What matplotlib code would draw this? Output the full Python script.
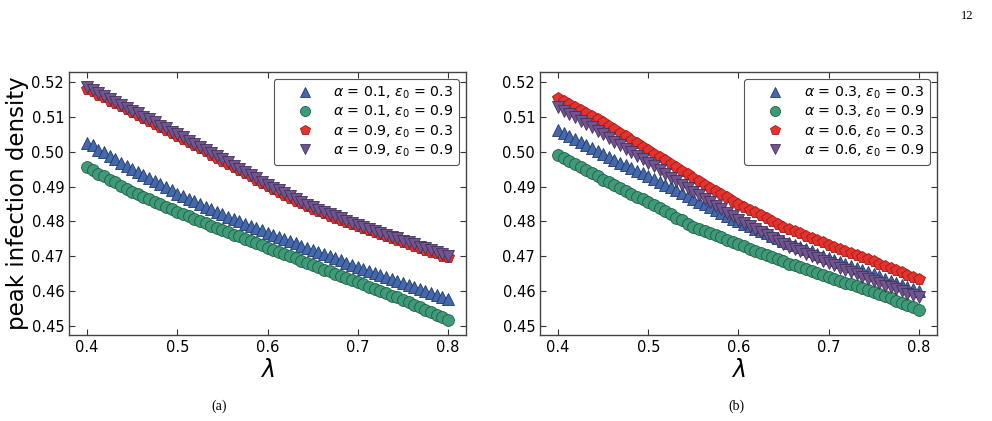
import numpy as np
import matplotlib
matplotlib.use("Agg")
import matplotlib.pyplot as plt

# lambda grid (65 points from 0.4 to 0.8)
lam = np.linspace(0.4, 0.8, 65)

# ---- panel (a) ----
a_labels = [r"$\alpha$ = 0.1, $\varepsilon_0$ = 0.3", r"$\alpha$ = 0.1, $\varepsilon_0$ = 0.9",
            r"$\alpha$ = 0.9, $\varepsilon_0$ = 0.3", r"$\alpha$ = 0.9, $\varepsilon_0$ = 0.9"]
a_blue = [0.5025, 0.5018, 0.5006, 0.5000, 0.4988, 0.4980, 0.4969, 0.4960,
          0.4951, 0.4943, 0.4933, 0.4925, 0.4916, 0.4907, 0.4898, 0.4889,
          0.4880, 0.4873, 0.4864, 0.4858, 0.4850, 0.4842, 0.4835, 0.4827,
          0.4820, 0.4814, 0.4807, 0.4801, 0.4794, 0.4788, 0.4781, 0.4775,
          0.4768, 0.4762, 0.4755, 0.4750, 0.4743, 0.4737, 0.4730, 0.4725,
          0.4718, 0.4712, 0.4706, 0.4700, 0.4694, 0.4688, 0.4682, 0.4676,
          0.4670, 0.4664, 0.4658, 0.4652, 0.4646, 0.4640, 0.4634, 0.4628,
          0.4622, 0.4617, 0.4611, 0.4605, 0.4600, 0.4594, 0.4589, 0.4583, 0.4577]
a_green = [0.4955, 0.4947, 0.4937, 0.4930, 0.4920, 0.4912, 0.4903, 0.4894,
           0.4885, 0.4878, 0.4871, 0.4864, 0.4857, 0.4849, 0.4842, 0.4835,
           0.4828, 0.4822, 0.4815, 0.4808, 0.4802, 0.4795, 0.4788, 0.4782,
           0.4775, 0.4769, 0.4762, 0.4757, 0.4750, 0.4744, 0.4737, 0.4732,
           0.4725, 0.4719, 0.4712, 0.4707, 0.4700, 0.4694, 0.4687, 0.4682,
           0.4675, 0.4669, 0.4662, 0.4657, 0.4650, 0.4644, 0.4637, 0.4632,
           0.4625, 0.4619, 0.4612, 0.4607, 0.4600, 0.4594, 0.4587, 0.4582,
           0.4575, 0.4568, 0.4561, 0.4554, 0.4546, 0.4539, 0.4532, 0.4525, 0.4518]
a_red = [0.5181, 0.5173, 0.5164, 0.5156, 0.5147, 0.5139, 0.5130, 0.5122,
         0.5114, 0.5105, 0.5097, 0.5088, 0.5080, 0.5071, 0.5063, 0.5054,
         0.5046, 0.5037, 0.5028, 0.5020, 0.5010, 0.5001, 0.4992, 0.4983,
         0.4974, 0.4965, 0.4956, 0.4947, 0.4938, 0.4929, 0.4919, 0.4910,
         0.4901, 0.4893, 0.4885, 0.4877, 0.4868, 0.4860, 0.4852, 0.4844,
         0.4836, 0.4830, 0.4823, 0.4817, 0.4811, 0.4804, 0.4798, 0.4792,
         0.4786, 0.4780, 0.4775, 0.4769, 0.4763, 0.4758, 0.4752, 0.4747,
         0.4741, 0.4736, 0.4730, 0.4724, 0.4719, 0.4713, 0.4708, 0.4702, 0.4697]
a_purple = [0.5185, 0.5176, 0.5169, 0.5159, 0.5152, 0.5143, 0.5135, 0.5126,
            0.5118, 0.5110, 0.5101, 0.5093, 0.5085, 0.5075, 0.5067, 0.5058,
            0.5050, 0.5042, 0.5032, 0.5023, 0.5015, 0.5004, 0.4996, 0.4987,
            0.4978, 0.4970, 0.4960, 0.4951, 0.4942, 0.4933, 0.4924, 0.4914,
            0.4905, 0.4897, 0.4889, 0.4881, 0.4873, 0.4864, 0.4856, 0.4848,
            0.4840, 0.4834, 0.4827, 0.4822, 0.4815, 0.4809, 0.4802, 0.4796,
            0.4790, 0.4784, 0.4779, 0.4773, 0.4768, 0.4762, 0.4756, 0.4751,
            0.4745, 0.4740, 0.4734, 0.4728, 0.4723, 0.4717, 0.4712, 0.4706, 0.4700]

# ---- panel (b) ----
b_labels = [r"$\alpha$ = 0.3, $\varepsilon_0$ = 0.3", r"$\alpha$ = 0.3, $\varepsilon_0$ = 0.9",
            r"$\alpha$ = 0.6, $\varepsilon_0$ = 0.3", r"$\alpha$ = 0.6, $\varepsilon_0$ = 0.9"]
b_blue = [0.5063, 0.5054, 0.5046, 0.5037, 0.5028, 0.5019, 0.5011, 0.5002,
          0.4993, 0.4985, 0.4977, 0.4969, 0.4961, 0.4954, 0.4946, 0.4938,
          0.4930, 0.4922, 0.4914, 0.4906, 0.4898, 0.4889, 0.4881, 0.4873,
          0.4865, 0.4857, 0.4849, 0.4841, 0.4833, 0.4824, 0.4816, 0.4808,
          0.4800, 0.4793, 0.4786, 0.4779, 0.4773, 0.4766, 0.4759, 0.4752,
          0.4745, 0.4739, 0.4732, 0.4726, 0.4720, 0.4714, 0.4707, 0.4701,
          0.4695, 0.4689, 0.4683, 0.4677, 0.4671, 0.4666, 0.4660, 0.4654,
          0.4648, 0.4642, 0.4636, 0.4630, 0.4624, 0.4618, 0.4612, 0.4606, 0.4600]
b_green = [0.4992, 0.4983, 0.4974, 0.4965, 0.4956, 0.4947, 0.4938, 0.4929,
           0.4920, 0.4912, 0.4904, 0.4896, 0.4888, 0.4879, 0.4871, 0.4863,
           0.4855, 0.4846, 0.4838, 0.4829, 0.4820, 0.4811, 0.4803, 0.4794,
           0.4785, 0.4779, 0.4772, 0.4766, 0.4760, 0.4754, 0.4747, 0.4741,
           0.4735, 0.4729, 0.4722, 0.4716, 0.4710, 0.4704, 0.4697, 0.4691,
           0.4685, 0.4679, 0.4674, 0.4668, 0.4663, 0.4657, 0.4651, 0.4646,
           0.4640, 0.4635, 0.4630, 0.4624, 0.4619, 0.4614, 0.4609, 0.4603,
           0.4598, 0.4592, 0.4585, 0.4579, 0.4572, 0.4566, 0.4559, 0.4553, 0.4546]
b_red = [0.5155, 0.5146, 0.5138, 0.5129, 0.5120, 0.5111, 0.5103, 0.5094,
         0.5085, 0.5075, 0.5065, 0.5055, 0.5045, 0.5035, 0.5025, 0.5015,
         0.5005, 0.4995, 0.4985, 0.4975, 0.4965, 0.4955, 0.4945, 0.4935,
         0.4925, 0.4916, 0.4906, 0.4897, 0.4888, 0.4878, 0.4869, 0.4859,
         0.4850, 0.4842, 0.4834, 0.4826, 0.4818, 0.4809, 0.4801, 0.4793,
         0.4785, 0.4779, 0.4772, 0.4766, 0.4759, 0.4753, 0.4746, 0.4740,
         0.4733, 0.4727, 0.4721, 0.4715, 0.4709, 0.4703, 0.4697, 0.4691,
         0.4685, 0.4679, 0.4672, 0.4666, 0.4660, 0.4654, 0.4647, 0.4641, 0.4635]
b_purple = [0.5128, 0.5118, 0.5109, 0.5099, 0.5089, 0.5079, 0.5070, 0.5060,
            0.5050, 0.5040, 0.5029, 0.5019, 0.5009, 0.4999, 0.4988, 0.4978,
            0.4968, 0.4958, 0.4947, 0.4937, 0.4926, 0.4916, 0.4906, 0.4895,
            0.4885, 0.4875, 0.4865, 0.4855, 0.4845, 0.4835, 0.4825, 0.4815,
            0.4805, 0.4796, 0.4788, 0.4779, 0.4770, 0.4761, 0.4753, 0.4744,
            0.4735, 0.4728, 0.4721, 0.4714, 0.4707, 0.4701, 0.4694, 0.4687,
            0.4680, 0.4674, 0.4667, 0.4661, 0.4654, 0.4648, 0.4641, 0.4635,
            0.4628, 0.4622, 0.4616, 0.4611, 0.4605, 0.4599, 0.4593, 0.4588, 0.4582]

xticks = [0.4, 0.5, 0.6, 0.7, 0.8]
yticks = [0.45, 0.46, 0.47, 0.48, 0.49, 0.50, 0.51, 0.52]

styles = [
    dict(marker="^", mfc="#4468aa", mec="#1f3a6e"),
    dict(marker="o", mfc="#3f9a78", mec="#1f5e46"),
    dict(marker="p", mfc="#e6322d", mec="#9a1e1a"),
    dict(marker="v", mfc="#715590", mec="#433258"),
]

fig = plt.figure(figsize=(9.92, 4.21), dpi=100)
axL = fig.add_axes([0.0696, 0.2043, 0.4002, 0.6247])
axR = fig.add_axes([0.5444, 0.2043, 0.3999, 0.6247])

def draw(ax, series, labels):
    for ys, lab, st in zip(series, labels, styles):
        ax.plot(lam, ys, linestyle="none", marker=st["marker"], markersize=8.5,
                markerfacecolor=st["mfc"], markeredgecolor=st["mec"],
                markeredgewidth=0.6, label=lab)
    ax.set_xlim(0.38, 0.82)
    ax.set_ylim(0.4474, 0.5229)
    ax.set_xticks(xticks)
    ax.set_yticks(yticks)
    ax.set_xticklabels([f"{v:.1f}" for v in xticks])
    ax.set_yticklabels([f"{v:.2f}" for v in yticks])
    ax.tick_params(direction="in", top=True, right=True, labelsize=10.5,
                   length=4, width=0.8, colors="#333333", labelcolor="black")
    for sp in ax.spines.values():
        sp.set_color("#444444")
        sp.set_linewidth(1.0)
    ax.set_xlabel(r"$\lambda$", fontsize=17, labelpad=2)
    leg = ax.legend(loc="upper right", fontsize=10.2, frameon=True, fancybox=True,
                    edgecolor="#555555", framealpha=1, handletextpad=0.2,
                    borderpad=0.4, labelspacing=0.2, handlelength=3.6,
                    borderaxespad=0.5, markerscale=0.85)
    leg.get_frame().set_linewidth(0.8)

draw(axL, [a_blue, a_green, a_red, a_purple], a_labels)
draw(axR, [b_blue, b_green, b_red, b_purple], b_labels)
axL.set_ylabel("peak infection density", fontsize=16.5, labelpad=2)

fig.text(0.2208, 0.026, "(a)", fontsize=10, family="Liberation Serif", ha="center")
fig.text(0.7419, 0.026, "(b)", fontsize=10, family="Liberation Serif", ha="center")
fig.text(0.975, 0.955, "12", fontsize=9, family="Liberation Serif", ha="center")

fig.savefig("out.png", dpi=100)
